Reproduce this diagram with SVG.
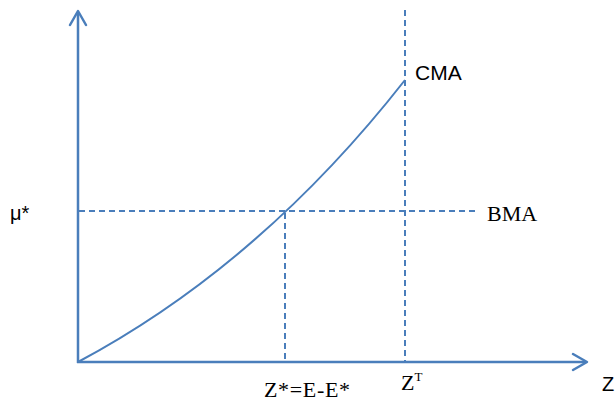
<svg xmlns="http://www.w3.org/2000/svg" width="616" height="402" viewBox="0 0 616 402">
<style>
.ax{stroke:#4a7ebb;stroke-width:2.5;fill:none}
.ah{stroke:#4a7ebb;stroke-width:2.5;fill:none;stroke-linecap:round;stroke-linejoin:round}
.ds{stroke:#4a7ebb;stroke-width:2;fill:none;stroke-dasharray:6 4}
.cv{stroke:#4a7ebb;stroke-width:2;fill:none}
.sans{font-family:"Liberation Sans","DejaVu Sans",sans-serif;fill:#000}
.serif{font-family:"Liberation Serif","DejaVu Serif",serif;fill:#000}
</style>
<g id="connectors">
<line class="ax" x1="78" y1="363" x2="78" y2="12"/>
<polyline class="ah" points="70,25 78,11 86,25"/>
<line class="ax" x1="77" y1="362" x2="586" y2="362"/>
<polyline class="ah" points="573,354 587,362 573,370"/>
<line class="ds" x1="405" y1="10" x2="405" y2="361"/>
<line class="ds" x1="79" y1="211" x2="478" y2="211"/>
<line class="ds" x1="285" y1="213" x2="285" y2="361"/>
<path class="cv" d="M78,362 Q260,265 405,80"/>
</g>
<g id="labels">
<text class="sans" x="415" y="80" font-size="21">CMA</text>
<text class="serif" x="487" y="221" font-size="22">BMA</text>
<text class="sans" x="10" y="220" font-size="20">μ*</text>
<text class="serif" x="264" y="397" font-size="22" textLength="86">Z*=E-E*</text>
<text class="serif" x="401" y="390" font-size="22">Z<tspan font-size="13" dy="-9">T</tspan></text>
<text class="sans" x="602" y="391" font-size="20">Z</text>
</g>
</svg>
